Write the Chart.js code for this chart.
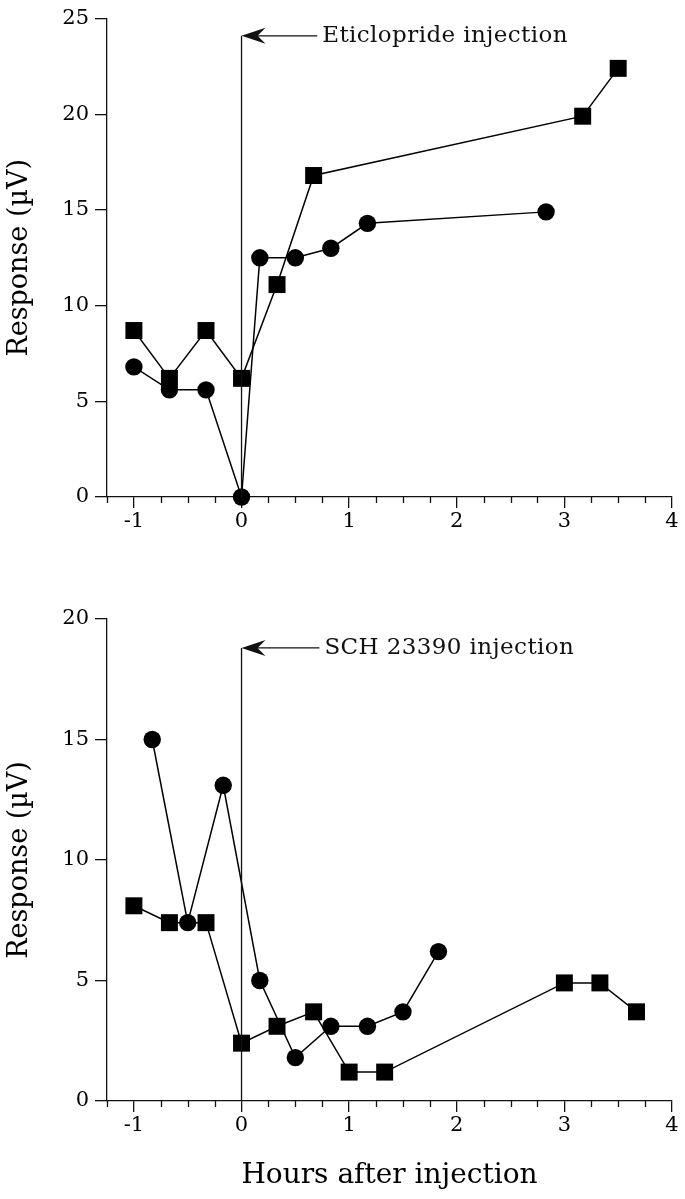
<!DOCTYPE html>
<html>
<head>
<meta charset="utf-8">
<script src="https://cdn.jsdelivr.net/npm/chart.js@4"></script>
<style>
  html, body { margin: 0; padding: 0; background: #fff; }
  canvas { position: absolute; left: 0; }
  #chartEti { top: 0; }
  #chartSch { top: 580px; }
</style>
</head>
<body>
<canvas id="chartEti" width="685" height="540"></canvas>
<canvas id="chartSch" width="685" height="619"></canvas>
<script>
// Upper panel - eticlopride
const etiSquareX = [-1, -0.67, -0.33, 0, 0.33, 0.67, 3.17, 3.5];
const etiSquareY = [8.7, 6.2, 8.7, 6.2, 11.1, 16.8, 19.9, 22.4];
const etiCircleX = [-1, -0.67, -0.33, 0, 0.17, 0.5, 0.83, 1.17, 2.83];
const etiCircleY = [6.8, 5.6, 5.6, 0, 12.5, 12.5, 13.0, 14.3, 14.9];

// Lower panel - SCH 23390
const schSquareX = [-1, -0.67, -0.33, 0, 0.33, 0.67, 1, 1.33, 3, 3.33, 3.67];
const schSquareY = [8.1, 7.4, 7.4, 2.4, 3.1, 3.7, 1.2, 1.2, 4.9, 4.9, 3.7];
const schCircleX = [-0.83, -0.5, -0.17, 0.17, 0.5, 0.83, 1.17, 1.5, 1.83];
const schCircleY = [15, 7.4, 13.1, 5, 1.8, 3.1, 3.1, 3.7, 6.2];

const xMajorTicks = [-1, 0, 1, 2, 3, 4];
const xMinorTicks = [-1.25, -0.75, -0.5, -0.25, 0.25, 0.5, 0.75, 1.25, 1.5, 1.75,
                     2.25, 2.5, 2.75, 3.25, 3.5, 3.75];
const yTicksEti = [0, 5, 10, 15, 20, 25];
const yTicksSch = [0, 5, 10, 15, 20];

const SERIF = '"DejaVu Serif", "Liberation Serif", serif';

function pts(xs, ys) { return xs.map((x, i) => ({ x: x, y: ys[i] })); }

// minor x ticks + injection arrow
const extras = {
    id: 'extras',
    afterDraw(chart, args, opts) {
        const ctx = chart.ctx, x = chart.scales.x, y = chart.scales.y;
        const base = chart.chartArea.bottom;
        ctx.save();
        ctx.strokeStyle = '#111';
        ctx.lineWidth = 1.3;
        ctx.beginPath();
        xMinorTicks.forEach(v => {
            const px = Math.round(x.getPixelForValue(v)) + 0.5;
            ctx.moveTo(px, base);
            ctx.lineTo(px, base + 6);
        });
        ctx.stroke();

        const x0 = x.getPixelForValue(opts.at);
        const yTop = y.getPixelForValue(opts.top);
        const xText = x.getPixelForValue(opts.textAt);
        ctx.beginPath();
        ctx.moveTo(x0, base);
        ctx.lineTo(x0, yTop);
        ctx.moveTo(x0 + 10, yTop);
        ctx.lineTo(xText - 5, yTop);
        ctx.stroke();
        ctx.fillStyle = '#111';
        ctx.beginPath();
        ctx.moveTo(x0, yTop);
        ctx.lineTo(x0 + 24, yTop - 8);
        ctx.lineTo(x0 + 16, yTop);
        ctx.lineTo(x0 + 24, yTop + 8);
        ctx.closePath();
        ctx.fill();
        ctx.font = '23px ' + SERIF;
        ctx.letterSpacing = '0.4px';
        ctx.textAlign = 'left';
        ctx.textBaseline = 'middle';
        ctx.fillText(opts.text, xText, yTop);
        ctx.restore();
    }
};

function makeChart(id, sqX, sqY, ciX, ciY, yTicks, note, padTop, xAxisH, xTitle) {
    const yMax = yTicks[yTicks.length - 1];
    return new Chart(document.getElementById(id), {
        type: 'line',
        data: {
            datasets: [
                {
                    data: pts(sqX, sqY), pointStyle: 'rect', pointRadius: 12,
                    borderColor: '#000', backgroundColor: '#000', borderWidth: 1.5,
                    pointBorderWidth: 0, clip: false
                },
                {
                    data: pts(ciX, ciY), pointStyle: 'circle', pointRadius: 8.7,
                    borderColor: '#000', backgroundColor: '#000', borderWidth: 1.5,
                    pointBorderWidth: 0, clip: false
                }
            ]
        },
        options: {
            responsive: false, animation: false,
            layout: { padding: { top: padTop, right: 13, left: 0, bottom: 0 } },
            plugins: {
                legend: { display: false }, tooltip: { enabled: false },
                extras: note
            },
            scales: {
                x: {
                    type: 'linear', min: -1.25, max: 4,
                    afterBuildTicks: s => { s.ticks = xMajorTicks.map(v => ({ value: v })); },
                    afterFit: s => { s.height = xAxisH; },
                    grid: { drawOnChartArea: false, drawTicks: true, tickLength: 11, color: '#111', lineWidth: 1.3 },
                    border: { display: true, color: '#111', width: 1.3 },
                    ticks: { color: '#000', padding: 1, maxRotation: 0, font: { family: SERIF, size: 21 },
                             callback: v => String(v) },
                    title: {
                        display: !!xTitle, text: xTitle || '', color: '#000',
                        font: { family: SERIF, size: 28 }, padding: { top: 0, bottom: 6 }
                    }
                },
                y: {
                    type: 'linear', min: 0, max: yMax,
                    afterBuildTicks: s => { s.ticks = yTicks.map(v => ({ value: v })); },
                    afterFit: s => { s.width = 107; },
                    grid: { drawOnChartArea: false, drawTicks: true, tickLength: 12, color: '#111', lineWidth: 1.3 },
                    border: { display: true, color: '#111', width: 1.3 },
                    ticks: { color: '#000', padding: 6, font: { family: SERIF, size: 21 } },
                    title: {
                        display: true, text: 'Response (\u00B5V)', color: '#000',
                        font: { family: SERIF, size: 27 }, padding: { top: 4, bottom: 0 }
                    }
                }
            }
        },
        plugins: [extras]
    });
}

makeChart('chartEti', etiSquareX, etiSquareY, etiCircleX, etiCircleY, yTicksEti,
    { at: 0, top: 24.1, textAt: 0.75, text: 'Eticlopride injection' }, 15, 43, null);
makeChart('chartSch', schSquareX, schSquareY, schCircleX, schCircleY, yTicksSch,
    { at: 0, top: 18.8, textAt: 0.77, text: 'SCH 23390 injection' }, 39, 98, 'Hours after injection');
</script>
</body>
</html>
